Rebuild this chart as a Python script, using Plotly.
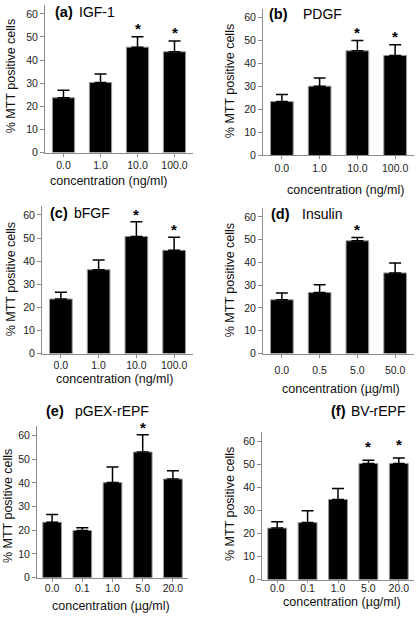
import plotly.graph_objects as go

# ---------------- data ----------------
conc_ng = ["0.0", "1.0", "10.0", "100.0"]
conc_ins = ["0.0", "0.5", "5.0", "50.0"]
conc_epf = ["0.0", "0.1", "1.0", "5.0", "20.0"]

igf_mean = [23.7, 30.3, 45.6, 43.6]
igf_err = [3.2, 3.7, 4.5, 4.7]
igf_star = [2, 3]

pdgf_mean = [23.5, 30.2, 45.6, 43.6]
pdgf_err = [3.1, 3.6, 4.5, 4.7]
pdgf_star = [2, 3]

bfgf_mean = [23.6, 36.3, 50.7, 44.7]
bfgf_err = [2.9, 4.2, 6.3, 5.6]
bfgf_star = [2, 3]

ins_mean = [23.6, 26.8, 49.5, 35.4]
ins_err = [3.0, 3.4, 1.4, 4.3]
ins_star = [2]

pgex_mean = [23.4, 19.9, 40.1, 53.0, 41.6]
pgex_err = [3.2, 1.2, 6.6, 7.3, 3.5]
pgex_star = [3]

bv_mean = [22.3, 24.7, 34.7, 50.3, 50.3]
bv_err = [2.8, 5.1, 4.7, 1.4, 2.4]
bv_star = [3, 4]

y_ticks = [0, 10, 20, 30, 40, 50, 60]
y_title = "% MTT positive cells"

# ---------------- layout helpers ----------------
W, H = 416, 619
FONT = "Liberation Sans, Arial, sans-serif"


def fx(px):
    return px / W


def fy(py):
    return 1 - py / H


panels = [
    dict(label="(a)", name="IGF-1", cats=conc_ng, mean=igf_mean, err=igf_err, star=igf_star,
         xd=(45, 193), yd=(154, 4.7), lab=(52.7, 12.5), nam=(77.3, 12.5),
         yt=(11, 77), xt=(108, 183), xtitle="concentration (ng/ml)", bw=0.6,
         tls=0, tl=3, sshift=-2),
    dict(label="(b)", name="PDGF", cats=conc_ng, mean=pdgf_mean, err=pdgf_err, star=pdgf_star,
         xd=(263, 414), yd=(157, 8.7), lab=(266.7, 14), nam=(300.7, 14),
         yt=(230, 82), xt=(345, 192), xtitle="concentration (ng/ml)", bw=0.6,
         tls=0, tl=3, sshift=-2),
    dict(label="(c)", name="bFGF", cats=conc_ng, mean=bfgf_mean, err=bfgf_err, star=bfgf_star,
         xd=(42, 193), yd=(357, 207.7), lab=(48.3, 215), nam=(71.7, 215),
         yt=(11, 282), xt=(114, 383), xtitle="concentration (ng/ml)", bw=0.6,
         tls=-1, tl=3, sshift=-3),
    dict(label="(d)", name="Insulin", cats=conc_ins, mean=ins_mean, err=ins_err, star=ins_star,
         xd=(263, 414), yd=(357, 209.8), lab=(269.3, 216), nam=(300.3, 216),
         yt=(230, 283), xt=(341, 393), xtitle="concentration (\u00b5g/ml)", bw=0.6,
         tls=4, tl=3, sshift=-2),
    dict(label="(e)", name="pGEX-rEPF", cats=conc_epf, mean=pgex_mean, err=pgex_err, star=pgex_star,
         xd=(37, 188), yd=(583.3, 430.1), lab=(44.3, 415), nam=(72.7, 415),
         yt=(8, 511), xt=(111, 612), xtitle="concentration (\u00b5g/ml)", bw=0.62,
         tls=-2, tl=3, sshift=-3),
    dict(label="(f)", name="BV-rEPF", cats=conc_epf, mean=bv_mean, err=bv_err, star=bv_star,
         xd=(262, 414), yd=(585.3, 436), lab=(329.3, 415), nam=(348.7, 415),
         yt=(230, 509), xt=(342, 608), xtitle="concentration (\u00b5g/ml)", bw=0.62,
         tls=-3, tl=2, sshift=3),
]

fig = go.Figure()
annotations = []
layout_axes = {}

for i, p in enumerate(panels, start=1):
    xa = "x" if i == 1 else f"x{i}"
    ya = "y" if i == 1 else f"y{i}"
    xkey = "xaxis" if i == 1 else f"xaxis{i}"
    ykey = "yaxis" if i == 1 else f"yaxis{i}"
    n = len(p["cats"])

    fig.add_trace(go.Bar(
        x=p["cats"], y=p["mean"], xaxis=xa, yaxis=ya, width=p["bw"],
        marker=dict(color="black", line=dict(color="#9a9a9a", width=1)),
        error_y=dict(type="data", symmetric=False, array=p["err"],
                     arrayminus=[0] * len(p["err"]), color="black",
                     thickness=1.5, width=6),
        showlegend=False, hoverinfo="skip",
    ))

    layout_axes[xkey] = dict(
        domain=[fx(p["xd"][0]), fx(p["xd"][1])], anchor=ya, type="category",
        range=[-0.5, n - 0.5], autorange=False,
        categoryorder="array", categoryarray=p["cats"],
        showline=True, linecolor="#8c8c8c", linewidth=1,
        ticks="outside", ticklen=p["tl"], tickcolor="#8c8c8c", tickwidth=1,
        ticklabelstandoff=p["tls"],
        tickfont=dict(family=FONT, size=10.5, color="#222"),
        showgrid=False, zeroline=False, fixedrange=True,
    )
    layout_axes[ykey] = dict(
        domain=[fy(p["yd"][0]), fy(p["yd"][1])], anchor=xa, range=[0, 64],
        autorange=False,
        tickvals=y_ticks, showline=True, linecolor="#8c8c8c", linewidth=1,
        ticks="outside", ticklen=4, tickcolor="#8c8c8c", tickwidth=1,
        tickfont=dict(family=FONT, size=10.5, color="#222"),
        showgrid=False, zeroline=False, fixedrange=True,
    )

    annotations.append(dict(
        text="<b>" + p["label"] + "</b>", xref="paper", yref="paper",
        x=fx(p["lab"][0]), y=fy(p["lab"][1]), xanchor="left", yanchor="middle",
        showarrow=False, font=dict(family=FONT, size=14.5, color="black")))
    annotations.append(dict(
        text=p["name"], xref="paper", yref="paper",
        x=fx(p["nam"][0]), y=fy(p["nam"][1]), xanchor="left", yanchor="middle",
        showarrow=False, font=dict(family=FONT, size=14, color="black")))
    annotations.append(dict(
        text=y_title, xref="paper", yref="paper", textangle=-90,
        x=fx(p["yt"][0]), y=fy(p["yt"][1]), xanchor="center", yanchor="middle",
        showarrow=False, font=dict(family=FONT, size=12.5, color="#111")))
    annotations.append(dict(
        text=p["xtitle"], xref="paper", yref="paper",
        x=fx(p["xt"][0]), y=fy(p["xt"][1]), xanchor="center", yanchor="middle",
        showarrow=False, font=dict(family=FONT, size=12.5, color="#111")))
    for k in p["star"]:
        annotations.append(dict(
            text="<b>*</b>", xref=xa, yref=ya, x=k,
            y=p["mean"][k] + p["err"][k], xanchor="center", yanchor="bottom",
            yshift=p["sshift"], showarrow=False,
            font=dict(family=FONT, size=15, color="black")))

fig.update_layout(
    width=W, height=H, autosize=False,
    margin=dict(l=0, r=0, t=0, b=0),
    paper_bgcolor="white", plot_bgcolor="white",
    annotations=annotations, **layout_axes,
)

fig.write_html(
    "out.html",
    config={"displayModeBar": False},
    post_script="document.body.style.margin='0';document.body.style.overflow='hidden';",
)
